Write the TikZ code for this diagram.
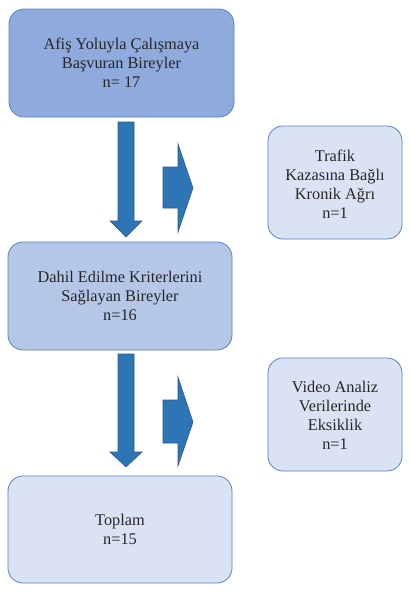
\documentclass[tikz,border=0pt]{standalone}
\usepackage{fontspec}
\setmainfont{Liberation Serif}
\begin{document}
\begin{tikzpicture}[x=1pt,y=-1pt,
  box/.style={draw=boxline, line width=0.8pt, rounded corners=15pt},
  txt/.style={align=center, font=\fontsize{16.3}{19}\selectfont, text=black!85},
  bigarrow/.style={fill=arrowblue, draw=arrowline, line width=0.6pt}]
\definecolor{boxline}{HTML}{5B7FC4}
\definecolor{fillA}{HTML}{8FAADC}
\definecolor{fillB}{HTML}{B4C7E7}
\definecolor{fillC}{HTML}{DAE3F3}
\definecolor{arrowblue}{HTML}{2E75B6}
\definecolor{arrowline}{HTML}{2F5597}
\useasboundingbox[fill=white] (0,0) rectangle (412,595);
% boxes
\draw[box, fill=fillA] (9,9) rectangle (234,117);
\node[txt] (b1) at (121.5,63) {Afiş Yoluyla Çalışmaya\\Başvuran Bireyler\\n= 17};
\draw[box, fill=fillB] (8,242) rectangle (232,350);
\node[txt] (b2) at (120,296) {Dahil Edilme Kriterlerini\\Sağlayan Bireyler\\n=16};
\draw[box, fill=fillC] (8,476) rectangle (232,583);
\node[txt] (b3) at (120,529) {Toplam\\n=15};
\draw[box, fill=fillC] (268,126) rectangle (402,239);
\node[txt] (e1) at (335,184) {Trafik\\Kazasına Bağlı\\Kronik Ağrı\\n=1};
\draw[box, fill=fillC] (268,358) rectangle (402,471);
\node[txt] (e2) at (335,415) {Video Analiz\\Verilerinde\\Eksiklik\\n=1};
% down arrows
\draw[bigarrow] (118,122) -- (134,122) -- (134,221) -- (142,221) -- (126,237) -- (110,221) -- (118,221) -- cycle;
\draw[bigarrow] (118,354) -- (134,354) -- (134,452) -- (142,452) -- (126,467) -- (110,452) -- (118,452) -- cycle;
% right arrows
\draw[bigarrow] (163,167) -- (178,167) -- (178,144) -- (193,188) -- (178,232) -- (178,208) -- (163,208) -- cycle;
\draw[bigarrow] (163,400) -- (178,400) -- (178,377) -- (193,422) -- (178,466) -- (178,443) -- (163,443) -- cycle;
\end{tikzpicture}
\end{document}
